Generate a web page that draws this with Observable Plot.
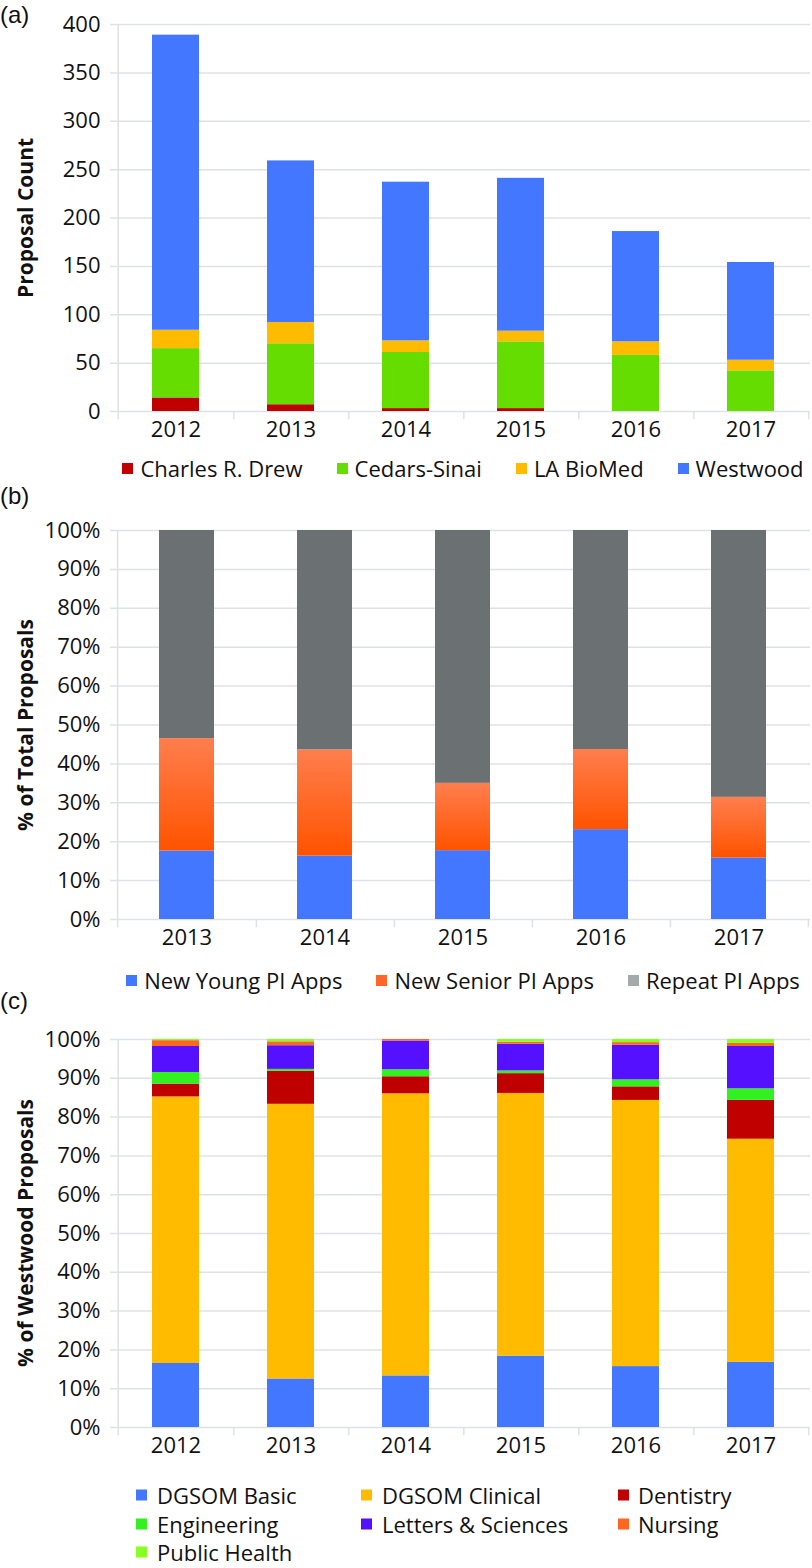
<!DOCTYPE html>
<html>
<head>
<meta charset="utf-8">
<script src="https://cdn.jsdelivr.net/npm/d3@7"></script>
<script src="https://cdn.jsdelivr.net/npm/@observablehq/plot@0.6"></script>
<style>
  body { margin: 0; background: #fff; }
  #page { position: relative; width: 812px; height: 1568px; font-family: "Open Sans", sans-serif; color: #111; overflow: hidden; }
  .panel { position: absolute; left: 0px; font-family: "Liberation Sans", Arial, sans-serif; font-size: 24px; line-height: 1; color: #111; transform: translateY(-50%); }
  .ytitle { position: absolute; font-weight: bold; font-size: 21px; white-space: nowrap; line-height: 1; transform: translate(-50%, -50%) rotate(-90deg); color: #111; }
  .leg { position: absolute; font-size: 22px; white-space: nowrap; line-height: 1; transform: translateY(-50%); color: #111; }
  .sw { position: absolute; width: 11px; height: 11px; transform: translateY(-50%); }
  .flexleg { position: absolute; display: flex; justify-content: center; align-items: center; gap: 34px; font-size: 22px; line-height: 1; white-space: nowrap; transform: translateY(-50%); color: #111; }
  .flexleg .item { display: flex; align-items: center; }
  .flexleg .sq { width: 11px; height: 11px; margin-right: 7px; }
</style>
</head>
<body>
<div id="page"></div>
<script>
// ---------- Panel (a) data ----------
const yearsA = ["2012", "2013", "2014", "2015", "2016", "2017"];
const seriesA = ["Charles R. Drew", "Cedars-Sinai", "LA BioMed", "Westwood"];
const charlesDrew = [14, 7, 3, 3, 0, 0];
const cedarsSinai = [51, 63, 58, 69, 58, 42];
const laBioMed = [19, 22, 12, 11, 14, 11];
const westwood = [305, 167, 164, 158, 114, 101];
const colorsA = ["#C00000", "#66DD00", "#FFBB00", "#4477FF"];
const ticksA = [0, 50, 100, 150, 200, 250, 300, 350, 400];

// ---------- Panel (b) data ----------
const yearsB = ["2013", "2014", "2015", "2016", "2017"];
const seriesB = ["New Young PI Apps", "New Senior PI Apps", "Repeat PI Apps"];
const newYoungPI = [17.6, 16.3, 17.7, 23.1, 15.8];
const newSeniorPI = [28.9, 27.3, 17.3, 20.6, 15.6];
const repeatPI = [53.5, 56.4, 65.0, 56.3, 68.6];
const colorsB = ["#4477FF", "url(#seniorGrad)", "#6B7173"];
const legendColorsB = ["#4477FF", "#FF6628", "#A3AAAA"];
const ticksPct = [0, 10, 20, 30, 40, 50, 60, 70, 80, 90, 100];

// ---------- Panel (c) data ----------
const yearsC = ["2012", "2013", "2014", "2015", "2016", "2017"];
const seriesC = ["DGSOM Basic", "DGSOM Clinical", "Dentistry", "Engineering", "Letters & Sciences", "Nursing", "Public Health"];
const dgsomBasic = [16.5, 12.5, 13.3, 18.4, 15.7, 16.8];
const dgsomClinical = [68.7, 70.8, 72.7, 67.7, 68.6, 57.5];
const dentistry = [3.3, 8.5, 4.4, 5.1, 3.5, 10.0];
const engineering = [3.0, 0.5, 1.8, 0.7, 1.8, 3.0];
const lettersSciences = [6.7, 6.1, 7.4, 6.9, 8.9, 10.9];
const nursing = [1.5, 1.0, 0.4, 0.5, 0.7, 0.8];
const publicHealth = [0.3, 0.6, 0.0, 0.7, 0.8, 1.0];
const colorsC = ["#4477FF", "#FFBB00", "#C00000", "#33F020", "#5511FF", "#FF6622", "#88FF22"];

// ---------- helpers ----------
function tidy(years, series, valueArrays) {
  const rows = [];
  series.forEach((s, i) => years.forEach((y, j) => rows.push({ year: y, series: s, value: valueArrays[i][j] })));
  return rows;
}
const page = document.getElementById("page");
const W = 812, ML = 116, MR = 2;
const gridColor = "#DFE2E5";
const fontStyle = { fontFamily: "'Open Sans', sans-serif", fontSize: "22px", color: "#111", background: "transparent", overflow: "visible" };

function makeChart({ years, series, values, colors, yDomain, ticks, tickFormat, top, marginTop, plotH, marginBottom, tickExt, padInner }) {
  const n = years.length;
  const step = (W - ML - MR) / n;
  const rows = tidy(years, series, values);
  const chart = Plot.plot({
    width: W,
    height: marginTop + plotH + marginBottom,
    marginTop, marginBottom, marginLeft: ML, marginRight: MR,
    style: fontStyle,
    x: { domain: years, paddingInner: padInner, paddingOuter: padInner / 2, axis: null, label: null },
    y: { domain: yDomain, axis: null, label: null },
    color: { domain: series, range: colors },
    marks: [
      Plot.ruleY(ticks, { stroke: gridColor, strokeWidth: 1.5, insetLeft: -6 }),
      Plot.ruleX([years[0]], { dx: -step / 2, y1: tickExt, y2: yDomain[1], stroke: gridColor, strokeWidth: 1.5 }),
      Plot.ruleX(years, { dx: step / 2, y1: tickExt, y2: yDomain[0], stroke: gridColor, strokeWidth: 1.5 }),
      Plot.barY(rows, { x: "year", y: "value", fill: "series", order: series }),
      Plot.axisX({ tickSize: 0, tickPadding: 10, fontSize: 22 }),
      Plot.axisY(ticks, { tickSize: 0, tickPadding: 16, fontSize: 22, tickFormat })
    ]
  });
  chart.style.position = "absolute";
  chart.style.left = "0px";
  chart.style.top = top + "px";
  page.appendChild(chart);
  return chart;
}

function addText(cls, text, x, y) {
  const d = document.createElement("div");
  d.className = cls;
  d.textContent = text;
  d.style.left = x + "px";
  d.style.top = y + "px";
  page.appendChild(d);
}
function addLegend(items, colors, positions) {
  items.forEach((label, i) => {
    const [sx, tx, y] = positions[i];
    const s = document.createElement("div");
    s.className = "sw";
    s.style.left = sx + "px";
    s.style.top = y + "px";
    s.style.background = colors[i];
    page.appendChild(s);
    addText("leg", label, tx, y);
  });
}
function addFlexLegend(items, colors, y) {
  const d = document.createElement("div");
  d.className = "flexleg";
  d.style.left = ML + "px";
  d.style.width = (W - ML - MR) + "px";
  d.style.top = y + "px";
  items.forEach((label, i) => {
    const it = document.createElement("div");
    it.className = "item";
    const sq = document.createElement("div");
    sq.className = "sq";
    sq.style.background = colors[i];
    const t = document.createElement("span");
    t.textContent = label;
    it.appendChild(sq);
    it.appendChild(t);
    d.appendChild(it);
  });
  page.appendChild(d);
}

// ---------- Panel (a) ----------
makeChart({
  years: yearsA, series: seriesA,
  values: [charlesDrew, cedarsSinai, laBioMed, westwood],
  colors: colorsA, yDomain: [0, 400], ticks: ticksA, tickFormat: d => d,
  top: 0, marginTop: 24, plotH: 387, marginBottom: 36, tickExt: -8.5, padInner: 0.59
});
addText("panel", "(a)", 0, 15);
addText("ytitle", "Proposal Count", 25, 218);
addFlexLegend(seriesA, colorsA, 468);

// ---------- Panel (b) ----------
const chartB = makeChart({
  years: yearsB, series: seriesB,
  values: [newYoungPI, newSeniorPI, repeatPI],
  colors: colorsB, yDomain: [0, 100], ticks: ticksPct, tickFormat: d => d + "%",
  top: 500, marginTop: 30, plotH: 389, marginBottom: 36, tickExt: -2.1, padInner: 0.6
});
(function addGradient(svg) {
  const ns = "http://www.w3.org/2000/svg";
  const defs = document.createElementNS(ns, "defs");
  const g = document.createElementNS(ns, "linearGradient");
  g.setAttribute("id", "seniorGrad");
  g.setAttribute("x1", "0"); g.setAttribute("y1", "0");
  g.setAttribute("x2", "0"); g.setAttribute("y2", "1");
  [["0", "#FF7E4E"], ["1", "#FF5300"]].forEach(([o, c]) => {
    const st = document.createElementNS(ns, "stop");
    st.setAttribute("offset", o);
    st.setAttribute("stop-color", c);
    g.appendChild(st);
  });
  defs.appendChild(g);
  svg.insertBefore(defs, svg.firstChild);
})(chartB);
addText("panel", "(b)", 0, 496);
addText("ytitle", "% of Total Proposals", 25, 725);
addFlexLegend(seriesB, legendColorsB, 980);

// ---------- Panel (c) ----------
makeChart({
  years: yearsC, series: seriesC,
  values: [dgsomBasic, dgsomClinical, dentistry, engineering, lettersSciences, nursing, publicHealth],
  colors: colorsC, yDomain: [0, 100], ticks: ticksPct, tickFormat: d => d + "%",
  top: 1010, marginTop: 29, plotH: 388, marginBottom: 36, tickExt: -2.1, padInner: 0.59
});
addText("panel", "(c)", 0, 1001);
addText("ytitle", "% of Westwood Proposals", 25, 1233);
addLegend(seriesC, colorsC, [
  [136, 157, 1495], [361, 382, 1495], [618, 638, 1495],
  [136, 157, 1524], [361, 382, 1524], [618, 638, 1524],
  [136, 157, 1552]
]);
</script>
</body>
</html>
